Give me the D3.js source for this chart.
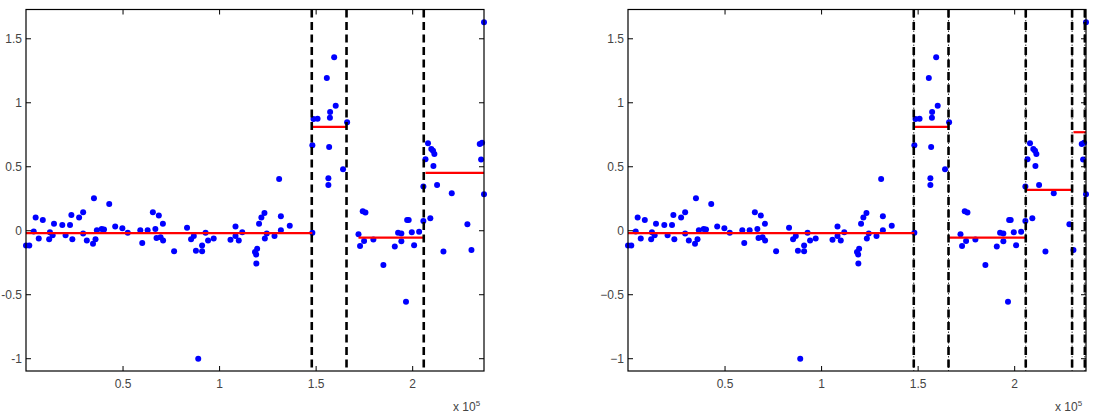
<!DOCTYPE html>
<html>
<head>
<meta charset="utf-8">
<script src="https://cdn.jsdelivr.net/npm/d3@7"></script>
<style>
  body { margin: 0; background: #fff; }
  svg { display: block; }
  .tick text { font-family: "Liberation Sans", Arial, sans-serif; font-size: 12px; fill: #444; }
</style>
</head>
<body>
<svg class="chart"></svg>
<script>
// sample positions (x 10^5) and values
const xs = [0.0, 0.017, 0.04, 0.05, 0.066, 0.087, 0.12, 0.124, 0.138, 0.145,
  0.188, 0.205, 0.228, 0.235, 0.24, 0.275, 0.296, 0.296, 0.315, 0.347,
  0.352, 0.36, 0.367, 0.392, 0.404, 0.431, 0.462, 0.499, 0.527, 0.592,
  0.602, 0.63, 0.657, 0.67, 0.676, 0.688, 0.697, 0.709, 0.71, 0.767,
  0.834, 0.855, 0.869, 0.88, 0.892, 0.912, 0.912, 0.93, 0.943, 0.972,
  1.059, 1.085, 1.085, 1.102, 1.12, 1.186, 1.192, 1.197, 1.193, 1.207,
  1.219, 1.235, 1.237, 1.247, 1.287, 1.311, 1.32, 1.32, 1.366, 1.483,
  1.483, 1.489, 1.51, 1.558, 1.566, 1.566, 1.57, 1.574, 1.575, 1.596,
  1.604, 1.642, 1.663,
  1.722, 1.73, 1.744, 1.758, 1.751, 1.799, 1.851, 1.91, 1.927, 1.944,
  1.944, 1.968, 1.974, 1.982, 1.998, 2.01, 2.036, 2.058, 2.058,
  2.069, 2.082, 2.094, 2.099, 2.108, 2.115, 2.11, 2.129, 2.162, 2.205,
  2.286, 2.307, 2.35, 2.362, 2.357, 2.372, 2.372];
const ys = [-0.12, -0.12, -0.01, 0.10, -0.065, 0.08, -0.07, -0.015, -0.04, 0.05,
  0.04, -0.04, 0.04, 0.12, -0.07, 0.10, 0.14, -0.025, -0.08, -0.105,
  0.25, -0.07, 0.0, 0.01, 0.005, 0.205, 0.03, 0.015, -0.02, 0.0,
  -0.10, 0.0, 0.14, 0.01, -0.06, 0.115, -0.055, 0.05, -0.08, -0.165,
  0.02, -0.07, -0.045, -0.16, -1.005, -0.12, -0.165, -0.02, -0.08, -0.065,
  -0.075, 0.03, -0.045, -0.08, -0.015, -0.17, -0.19, -0.145, -0.26, 0.05,
  0.10, 0.135, -0.065, -0.025, -0.045, 0.40, 0.11, 0.0, 0.035, -0.02,
  0.664, 0.87, 0.872, 1.19, 0.406, 0.354, 0.651, 0.88, 0.924, 1.351,
  0.973, 0.476, 0.844,
  -0.032, -0.123, 0.148, 0.138, -0.084, -0.073, -0.271, -0.128, -0.019, -0.026,
  -0.086, -0.558, 0.08, 0.08, -0.016, -0.117, -0.011, 0.073, 0.341,
  0.554, 0.68, 0.093, 0.635, 0.622, 0.596, 0.502, 0.354, -0.167, 0.289,
  0.047, -0.154, 0.674, 0.684, 0.552, 0.281, 1.625];

// change points and segment means, one set per panel
const breaksA = [1.48, 1.66, 2.06];
const segStartA = [0.0, 1.483, 1.722, 2.069];
const segEndA = [1.483, 1.663, 2.058, 2.372];
const segMeanA = [-0.023, 0.807, -0.058, 0.448];

const breaksB = [1.48, 1.66, 2.06, 2.30, 2.366];
const segStartB = [0.0, 1.483, 1.663, 2.058, 2.307];
const segEndB = [1.483, 1.663, 2.058, 2.302, 2.372];
const segMeanB = [-0.023, 0.807, -0.058, 0.315, 0.766];

const xTicks = [0.5, 1, 1.5, 2];
const yTicks = [-1, -0.5, 0, 0.5, 1, 1.5];

const W = 1095, H = 418;
const svg = d3.select(".chart").attr("width", W).attr("height", H);

function panel(left, breaks, segStart, segEnd, segMean, dashDot) {
    const top = 9.5, width = 458, height = 361.5;
    const g = svg.append("g").attr("transform", `translate(${left},${top})`);

    const x = d3.scaleLinear().domain([0, 2.372]).range([0, width]);
    const y = d3.scaleLinear().domain([-1.1, 1.725]).range([height, 0]);
    const fmt = d3.format("~g");
    // left panel prints a plain hyphen so "-0.5" fits at the page edge
    const yFmt = dashDot ? fmt : d => fmt(d).replace("\u2212", "-");

    // data points
    g.append("g").selectAll("circle")
        .data(xs.map((d, i) => [d, ys[i]]))
        .join("circle")
        .attr("cx", d => x(d[0]))
        .attr("cy", d => y(d[1]))
        .attr("r", 3)
        .attr("fill", "#0000ff");

    // segment means
    g.append("g").selectAll("line")
        .data(segMean)
        .join("line")
        .attr("x1", (d, i) => x(segStart[i]))
        .attr("x2", (d, i) => x(segEnd[i]))
        .attr("y1", d => y(d))
        .attr("y2", d => y(d))
        .attr("stroke", "#ff0000")
        .attr("stroke-width", 2.2);

    // change points
    const bg = g.append("g");
    if (dashDot) {
        bg.selectAll("line.thin")
            .data(breaks)
            .join("line")
            .attr("class", "thin")
            .attr("x1", d => x(d)).attr("x2", d => x(d))
            .attr("y1", 0).attr("y2", height)
            .attr("stroke", "#000")
            .attr("stroke-width", 0.8)
            .attr("stroke-dasharray", "1.5,2");
    }
    bg.selectAll("line.thick")
        .data(breaks)
        .join("line")
        .attr("class", "thick")
        .attr("x1", d => x(d)).attr("x2", d => x(d))
        .attr("y1", 0).attr("y2", height)
        .attr("stroke", "#000")
        .attr("stroke-width", 2.6)
        .attr("stroke-dasharray", "8,4.5");

    // axes with inward ticks
    const ax = g.append("g").attr("transform", `translate(0,${height})`)
        .call(d3.axisBottom(x).tickValues(xTicks).tickFormat(fmt).tickSize(-5).tickPadding(8));
    const axT = g.append("g")
        .call(d3.axisTop(x).tickValues(xTicks).tickFormat("").tickSize(-5));
    const ay = g.append("g")
        .call(d3.axisLeft(y).tickValues(yTicks).tickFormat(yFmt).tickSize(-5).tickPadding(4));
    const ayR = g.append("g").attr("transform", `translate(${width},0)`)
        .call(d3.axisRight(y).tickValues(yTicks).tickFormat("").tickSize(-5));
    [ax, axT, ay, ayR].forEach(a => {
        a.select(".domain").remove();
        a.selectAll(".tick line").attr("stroke", "#000").attr("stroke-width", 1);
    });

    g.append("rect")
        .attr("width", width).attr("height", height)
        .attr("fill", "none")
        .attr("stroke", "#000")
        .attr("stroke-width", 1.2);

    // exponent label
    const t = g.append("text")
        .attr("x", width - 31)
        .attr("y", height + 40)
        .attr("font-family", "Liberation Sans, Arial, sans-serif")
        .attr("font-size", 12)
        .attr("fill", "#444");
    t.append("tspan").text("x 10");
    t.append("tspan").attr("dy", -5).attr("font-size", 8).text("5");
}

panel(26, breaksA, segStartA, segEndA, segMeanA, false);
panel(628, breaksB, segStartB, segEndB, segMeanB, true);
</script>
</body>
</html>
